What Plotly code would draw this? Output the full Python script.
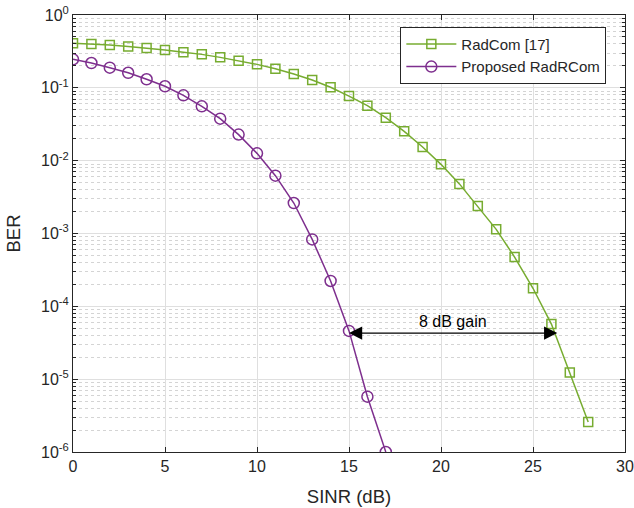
import plotly.graph_objects as go
import numpy as np

sinr_radcom = list(range(0, 29))
ber_radcom = [0.408, 0.40, 0.387, 0.37, 0.352, 0.33, 0.307, 0.288, 0.262, 0.236,
              0.21, 0.183, 0.155, 0.128, 0.102, 0.077, 0.0569, 0.0389, 0.0253, 0.0154,
              0.0089, 0.0048, 0.00238, 0.00114, 0.000475, 0.000177, 5.7e-5, 1.23e-5, 2.58e-6]

sinr_prop = list(range(0, 18))
ber_prop = [0.246, 0.219, 0.189, 0.161, 0.131, 0.105, 0.0789, 0.0557, 0.0377, 0.0228,
            0.0126, 0.00622, 0.00262, 0.00083, 0.000223, 4.6e-5, 5.75e-6, 1.0e-6]

x_ticks = [0, 5, 10, 15, 20, 25, 30]
y_ticks = [1e-6, 1e-5, 1e-4, 1e-3, 1e-2, 1e-1, 1]
y_ticktext = ["10<sup>-6</sup>", "10<sup>-5</sup>", "10<sup>-4</sup>", "10<sup>-3</sup>",
              "10<sup>-2</sup>", "10<sup>-1</sup>", "10<sup>0</sup>"]
minor_y = [m * 10.0 ** e for e in range(-6, 0) for m in range(2, 10)]

gain_label = "8 dB gain"
arrow_from = (15, 4.3e-5)
arrow_to = (26.4, 4.3e-5)

green = "#77AC30"
purple = "#7E2F8E"
axc = "#262626"
font = "Liberation Sans, Arial, Helvetica, sans-serif"

fig = go.Figure()
fig.add_trace(go.Scatter(x=sinr_radcom, y=ber_radcom, mode="lines+markers", name="RadCom [17]",
                         line=dict(color=green, width=1.5),
                         marker=dict(symbol="square-open", size=9, color=green, line=dict(width=1.5, color=green))))
fig.add_trace(go.Scatter(x=sinr_prop, y=ber_prop, mode="lines+markers", name="Proposed RadRCom",
                         line=dict(color=purple, width=1.5),
                         marker=dict(symbol="circle-open", size=11, color=purple, line=dict(width=1.5, color=purple))))

fig.add_annotation(x=arrow_from[0], y=np.log10(arrow_from[1]), ax=arrow_to[0], ay=np.log10(arrow_to[1]),
                   xref="x", yref="y", axref="x", ayref="y", text="", showarrow=True,
                   arrowhead=2, startarrowhead=2, arrowside="end+start", arrowsize=2.2, startarrowsize=2.2,
                   arrowwidth=1.2, arrowcolor="black", standoff=0, startstandoff=0)
fig.add_annotation(x=20.65, y=np.log10(4.3e-5), text=gain_label, showarrow=False, yanchor="bottom", yshift=1,
                   font=dict(family=font, size=16, color="black"))

fig.update_layout(
    width=634, height=508, margin=dict(l=73, r=9, t=15, b=56),
    paper_bgcolor="white", plot_bgcolor="white",
    font=dict(family=font, size=16, color=axc),
    showlegend=True,
    legend=dict(x=0.593, y=0.973, xanchor="left", yanchor="top", bgcolor="white",
                bordercolor=axc, borderwidth=1, font=dict(size=15, color=axc),
                tracegroupgap=0, itemwidth=50),
)
fig.update_xaxes(range=[0, 30], tickvals=x_ticks, ticks="inside", ticklen=5, tickcolor=axc,
                 showline=True, linecolor=axc, linewidth=1, mirror="ticks", automargin=False,
                 showgrid=True, gridcolor="#dfdfdf", gridwidth=1, zeroline=False,
                 title=dict(text="SINR (dB)", font=dict(size=18.5, color=axc)),
                 tickfont=dict(size=16, color=axc))
fig.update_yaxes(type="log", range=[-6, 0], tickvals=y_ticks, ticktext=y_ticktext,
                 ticks="inside", ticklen=5, tickcolor=axc, automargin=False,
                 showline=True, linecolor=axc, linewidth=1, mirror="ticks",
                 showgrid=True, gridcolor="#dfdfdf", gridwidth=1, zeroline=False,
                 minor=dict(tickvals=minor_y, ticks="inside", ticklen=3, tickcolor=axc,
                            showgrid=True, gridcolor="#d4d4d4", griddash="dot", gridwidth=1),
                 title=dict(text="BER", font=dict(size=18.5, color=axc)),
                 tickfont=dict(size=16, color=axc))

fig.write_html("out.html")
